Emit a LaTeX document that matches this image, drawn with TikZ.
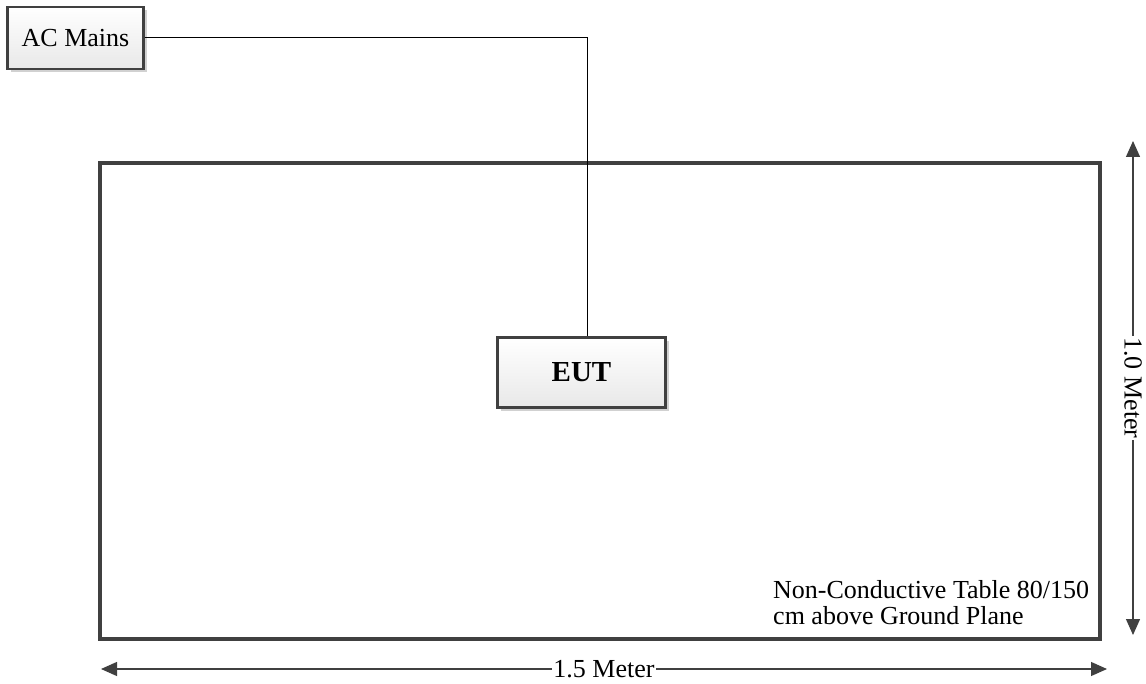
\documentclass[tikz,border=0pt]{standalone}
\usepackage{fontspec}
\setmainfont{Liberation Serif}
\usetikzlibrary{arrows.meta,shadows}
\begin{document}
\begin{tikzpicture}[x=1pt,y=-1pt,
  boxstyle/.style={draw=black!75,line width=2.6pt,top color=white,bottom color=black!9,
    drop shadow={shadow xshift=3.5pt,shadow yshift=-3.5pt,fill=black!18,opacity=1},inner sep=0pt},
  dimline/.style={draw=black!75,line width=1.2pt,{Triangle[length=16pt,width=14pt]}-{Triangle[length=16pt,width=14pt]}},
  dimlabel/.style={fill=white,inner sep=1pt,font=\fontsize{26}{28}\selectfont}
]
\useasboundingbox (0,0) rectangle (1146,684);
% table
\draw[draw=black!75,line width=4pt] (100,163) rectangle (1100,639);
% boxes
\node[boxstyle,minimum width=136pt,minimum height=62pt,font=\fontsize{26}{28}\selectfont] (ac) at (75.5,38) {AC Mains};
\node[boxstyle,minimum width=168pt,minimum height=70pt,font=\bfseries\fontsize{29}{31}\selectfont] (eut) at (581.5,372.5) {EUT};
\coordinate (bend) at (587,38);
\draw[line width=1pt] (ac.east) -- (bend) -- (bend |- eut.north);
% dimension arrows
\coordinate (vt) at (1133,141);
\coordinate (vb) at (1133,635);
\coordinate (hl) at (101,669);
\coordinate (hr) at (1107,669);
\draw[dimline] (vt) -- (vb) node[pos=0.5,dimlabel,rotate=-90] (vlab) {1.0 Meter};
\draw[dimline] (hl) -- (hr) node[pos=0.5,dimlabel] (hlab) {1.5 Meter};
% table label
\node[anchor=base west,align=left,font=\fontsize{26}{26}\selectfont,inner sep=0pt] (tlab) at (773,624) {Non-Conductive Table 80/150\\cm above Ground Plane};
\end{tikzpicture}
\end{document}
